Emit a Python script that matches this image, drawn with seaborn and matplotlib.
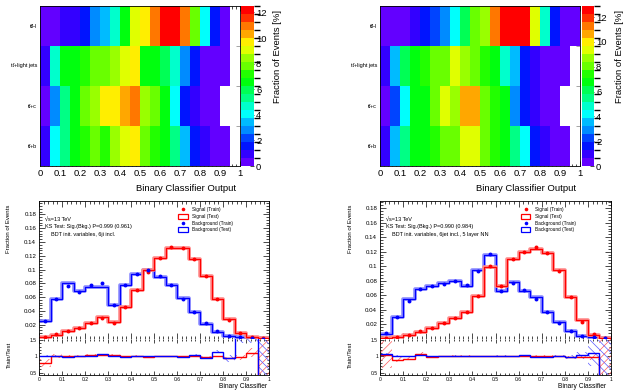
import numpy as np
import pandas as pd
import matplotlib
matplotlib.use("Agg")
import matplotlib.pyplot as plt
import seaborn as sns
import colorsys
from matplotlib.colors import ListedColormap, BoundaryNorm
from matplotlib.lines import Line2D
from matplotlib.patches import Patch
from matplotlib.ticker import MultipleLocator, FuncFormatter

# ---------------- data ----------------
categories = ["tt\u0304H", "tt\u0304+light jets", "tt\u0304+c", "tt\u0304+b"]
bin_edges = [round(0.05 * i, 3) for i in range(21)]
bin_centers = [round(0.05 * i + 0.025, 4) for i in range(20)]
xtick_values = [0, 0.1, 0.2, 0.3, 0.4, 0.5, 0.6, 0.7, 0.8, 0.9, 1.0]
xtick_labels = ["0", "0.1", "0.2", "0.3", "0.4", "0.5", "0.6", "0.7", "0.8", "0.9", "1"]
cbar_ticks = [0, 2, 4, 6, 8, 10, 12]

# heatmap, left (BDT): fraction of events [%] per bin, per category
hm_left_tth = [0.3, 0.4, 0.9, 1.0, 1.6, 2.8, 3.4, 4.7, 6.6, 9.1, 9.7, 11.0, 12.3, 12.5, 10.9, 7.8, 4.1, 1.6, 0.4, 0]
hm_left_light = [0.9, 4.7, 6.5, 6.6, 7.2, 7.8, 7.9, 8.4, 9.1, 9.7, 6.5, 6.6, 5.9, 4.7, 2.8, 1.6, 0.4, 0.35, 0.3, 0]
hm_left_c = [0.4, 2.8, 5.3, 6.6, 7.8, 8.2, 9.6, 9.7, 10.3, 10.9, 8.3, 7.8, 6.6, 4.1, 1.6, 0.9, 0.4, 0.3, 0, 0]
hm_left_b = [1.0, 4.1, 5.6, 6.6, 6.9, 7.6, 7.0, 8.3, 9.1, 9.7, 7.8, 7.0, 6.5, 5.2, 3.4, 1.6, 1.0, 0.4, 0.3, 0]

# heatmap, right (NN)
hm_right_tth = [0.3, 0.4, 0.5, 1.0, 1.6, 2.3, 2.9, 4.2, 6.1, 8.0, 8.7, 11.2, 12.9, 12.7, 12.5, 9.4, 4.8, 1.6, 0.5, 0.3]
hm_right_light = [1.0, 3.5, 6.1, 6.8, 7.4, 8.0, 8.1, 9.4, 8.7, 8.0, 7.4, 6.8, 5.0, 3.5, 1.6, 1.0, 0.4, 0.35, 0.3, 0]
hm_right_c = [0.4, 2.2, 4.2, 6.7, 7.0, 8.0, 9.5, 8.4, 10.6, 10.6, 8.0, 7.5, 6.7, 2.9, 1.6, 1.0, 0.4, 0.3, 0, 0]
hm_right_b = [1.0, 3.5, 5.3, 6.7, 6.8, 7.2, 7.9, 8.0, 9.4, 9.4, 7.9, 7.5, 6.7, 5.3, 4.2, 1.6, 1.0, 0.4, 0.3, 0]

# overtraining check, left (BDT)
sig_test_L = [0.002, 0.005, 0.011, 0.015, 0.022, 0.031, 0.024, 0.046, 0.070, 0.099, 0.117, 0.132, 0.132, 0.115, 0.091, 0.058, 0.028, 0.008, 0.002, 0.0005]
sig_train_L = [0.002, 0.006, 0.011, 0.015, 0.022, 0.030, 0.023, 0.045, 0.070, 0.097, 0.117, 0.133, 0.132, 0.116, 0.090, 0.057, 0.027, 0.008, 0.002, 0.0005]
bkg_test_L = [0.026, 0.057, 0.080, 0.069, 0.075, 0.075, 0.049, 0.077, 0.094, 0.099, 0.089, 0.077, 0.059, 0.038, 0.0215, 0.010, 0.003, 0.0015, 0.0005, 0.0002]
bkg_train_L = [0.026, 0.057, 0.076, 0.068, 0.077, 0.080, 0.048, 0.077, 0.094, 0.099, 0.091, 0.077, 0.058, 0.038, 0.022, 0.011, 0.004, 0.0015, 0.0005, 0.0]
ratio_sig_L = [0.80, 1.00, 1.01, 1.00, 1.03, 1.05, 1.03, 1.00, 1.01, 0.98, 1.00, 1.01, 1.00, 1.02, 0.98, 1.00, 0.95, 0.97, 1.12, 0.0]
err_sig_L = [0.12, 0.06, 0.04, 0.03, 0.03, 0.025, 0.03, 0.02, 0.02, 0.015, 0.015, 0.015, 0.015, 0.015, 0.02, 0.025, 0.03, 0.08, 0.15, 2.0]
ratio_bkg_L = [1.02, 1.02, 0.97, 1.00, 1.00, 1.07, 1.02, 0.99, 1.00, 1.00, 1.01, 1.00, 0.98, 1.05, 0.96, 1.15, 0.94, 1.70, 1.70, 0.0]
err_bkg_L = [0.02, 0.015, 0.015, 0.015, 0.015, 0.015, 0.02, 0.015, 0.015, 0.015, 0.015, 0.015, 0.02, 0.025, 0.03, 0.05, 0.10, 0.30, 0.30, 2.0]

# overtraining check, right (NN)
sig_test_R = [0.0005, 0.002, 0.005, 0.009, 0.015, 0.022, 0.029, 0.036, 0.059, 0.099, 0.073, 0.110, 0.120, 0.124, 0.118, 0.094, 0.057, 0.025, 0.005, 0.001]
sig_train_R = [0.0005, 0.002, 0.005, 0.010, 0.015, 0.022, 0.029, 0.036, 0.059, 0.100, 0.073, 0.110, 0.120, 0.126, 0.118, 0.093, 0.057, 0.023, 0.006, 0.001]
bkg_test_R = [0.0065, 0.030, 0.054, 0.069, 0.073, 0.077, 0.0795, 0.073, 0.095, 0.115, 0.065, 0.078, 0.066, 0.057, 0.037, 0.023, 0.0107, 0.004, 0.002, 0.0008]
bkg_train_R = [0.007, 0.030, 0.052, 0.068, 0.073, 0.076, 0.079, 0.074, 0.093, 0.117, 0.066, 0.077, 0.067, 0.054, 0.037, 0.022, 0.010, 0.004, 0.002, 0.001]
ratio_sig_R = [1.05, 0.90, 0.93, 1.08, 0.97, 1.00, 1.02, 1.01, 1.00, 1.00, 1.00, 1.01, 1.00, 1.02, 1.02, 1.00, 0.98, 0.98, 0.98, 0.0]
err_sig_R = [0.42, 0.08, 0.05, 0.06, 0.03, 0.025, 0.02, 0.02, 0.015, 0.015, 0.015, 0.015, 0.015, 0.015, 0.015, 0.02, 0.025, 0.04, 0.08, 2.0]
ratio_bkg_R = [1.08, 1.02, 1.00, 1.03, 1.00, 1.00, 1.02, 1.00, 1.01, 1.00, 1.02, 1.00, 1.03, 0.98, 0.99, 1.00, 0.98, 1.03, 1.10, 0.0]
err_bkg_R = [0.03, 0.02, 0.015, 0.015, 0.015, 0.015, 0.015, 0.015, 0.015, 0.015, 0.015, 0.015, 0.015, 0.02, 0.025, 0.03, 0.05, 0.1, 0.4, 2.0]

text_L = ["\u221as=13 TeV", "KS Test: Sig.(Bkg.) P=0.999 (0.961)", "BDT init. variables, 6ji incl."]
text_R = ["\u221as=13 TeV", "KS Test: Sig.(Bkg.) P=0.990 (0.984)", "BDT init. variables, 6jet incl., 5 layer NN"]
legend_labels = ["Signal (Train)", "Signal (Test)", "Background (Train)", "Background (Test)"]

# ---------------- style ----------------
sns.set_theme(style="white", rc={
    "axes.edgecolor": "black", "text.color": "black", "axes.labelcolor": "black",
    "xtick.color": "black", "ytick.color": "black", "axes.facecolor": "white",
})
plt.rcParams["font.family"] = ["Liberation Sans", "DejaVu Sans"]
plt.rcParams["hatch.linewidth"] = 0.5

RED = (1.0, 0.0, 0.0)
BLUE = (0.0, 0.0, 1.0)
PALE_RED = (1.0, 0.55, 0.55)
PALE_BLUE = (0.55, 0.55, 1.0)

W, H = 623, 390
fig = plt.figure(figsize=(W / 100, H / 100), dpi=100)


def rect(x0, y0, x1, y1):
    return [x0 / W, 1 - y1 / H, (x1 - x0) / W, (y1 - y0) / H]


def root_cmap(n_levels=20):
    pal = []
    for i in range(49):
        hue = 280 - (i + 1) * 280 / 50
        pal.append(colorsys.hls_to_rgb(hue / 360, 0.5, 1.0))
    pal.append((1.0, 0.0, 0.0))
    return ListedColormap([pal[int((k + 0.99) * 50 / n_levels)] for k in range(n_levels)])


CMAP = root_cmap()
gfmt = FuncFormatter(lambda v, p: f"{v:g}")


def draw_heatmap(ax, cax, rows):
    data = pd.DataFrame(rows, index=categories, columns=[f"{c:.3f}" for c in bin_centers])
    zmax = data.values.max()
    norm = BoundaryNorm(np.linspace(0, zmax * 1.0001, 21), 20)
    sns.heatmap(data, ax=ax, cbar_ax=cax, cmap=CMAP, norm=norm, mask=data.values <= 0,
                linewidths=0, xticklabels=False, yticklabels=True)
    ax.set_xticks(np.array(xtick_values) * 20)
    ax.set_xticklabels(xtick_labels, fontsize=6.8, rotation=0)
    ax.xaxis.set_minor_locator(MultipleLocator(0.4))
    ax.set_yticks([0.5, 1.5, 2.5, 3.5])
    ax.set_yticklabels(categories, rotation=0, fontsize=4)
    ax.set_yticks([1, 2, 3], minor=True)
    ax.tick_params(axis="x", which="both", direction="in", top=True, bottom=True)
    ax.tick_params(axis="x", which="major", length=3.5, width=0.5, pad=2)
    ax.tick_params(axis="x", which="minor", length=1.8, width=0.5)
    ax.tick_params(axis="y", which="major", length=0, pad=2)
    ax.tick_params(axis="y", which="minor", direction="in", left=True, right=True,
                   length=3, width=0.5, color="0.5")
    for s in ax.spines.values():
        s.set_visible(True)
        s.set_color("black")
        s.set_linewidth(0.6)
    ax.set_xlabel("")
    ax.set_ylabel("")
    cbar = ax.collections[0].colorbar
    cbar.set_ticks(cbar_ticks)
    cbar.set_ticklabels([str(t) for t in cbar_ticks])
    cbar.outline.set_visible(False)
    cax.tick_params(direction="in", length=3, width=0.5, labelsize=6.8, pad=1.5,
                    right=True, left=False, color="black")


def draw_main(ax, sig_test, sig_train, bkg_test, bkg_train, ymax, lines, leg_x):
    for test, col, pale in [(bkg_test, BLUE, PALE_BLUE), (sig_test, RED, PALE_RED)]:
        df = pd.DataFrame({"x": bin_centers, "w": test})
        sns.histplot(data=df, x="x", weights="w", bins=bin_edges, element="step", fill=False,
                     color=pale, linewidth=2.6, ax=ax)
        sns.histplot(data=df, x="x", weights="w", bins=bin_edges, element="step", fill=False,
                     color=col, linewidth=0.9, ax=ax)
    sns.scatterplot(x=bin_centers, y=sig_train, color=RED, s=8, linewidth=0, ax=ax, zorder=5)
    sns.scatterplot(x=bin_centers, y=bkg_train, color=BLUE, s=8, linewidth=0, ax=ax, zorder=5)
    ax.set_xlim(0, 1)
    ax.set_ylim(0, ymax)
    ax.set_xlabel("")
    ax.set_ylabel("")
    ax.xaxis.set_major_locator(MultipleLocator(0.1))
    ax.xaxis.set_minor_locator(MultipleLocator(0.02))
    ax.yaxis.set_major_locator(MultipleLocator(0.02))
    ax.yaxis.set_minor_locator(MultipleLocator(0.004))
    ax.yaxis.set_major_formatter(FuncFormatter(lambda v, p: "" if abs(v) < 1e-9 else f"{v:g}"))
    ax.tick_params(which="both", direction="in", top=True, right=True, bottom=True, left=True,
                   labelbottom=False, labelsize=4.4, width=0.5, pad=2)
    ax.tick_params(which="major", length=4)
    ax.tick_params(which="minor", length=2)
    for s in ax.spines.values():
        s.set_linewidth(0.6)
    ax.spines["bottom"].set_color("0.45")
    ax.spines["bottom"].set_linestyle((0, (2, 1)))
    handles = [
        Line2D([], [], marker="o", color=RED, ls="none", ms=2.6, mew=0),
        Patch(facecolor="none", edgecolor=RED, linewidth=0.9),
        Line2D([], [], marker="o", color=BLUE, ls="none", ms=2.6, mew=0),
        Patch(facecolor="none", edgecolor=BLUE, linewidth=0.9),
    ]
    ax.legend(handles, legend_labels, loc="upper left", bbox_to_anchor=(leg_x, 0.955),
              frameon=False, fontsize=3.4, handlelength=2.0, handleheight=1.2,
              labelspacing=0.35, handletextpad=1.0, borderpad=0, borderaxespad=0)
    ax.text(0.024, 0.862, lines[0], transform=ax.transAxes, fontsize=4.0, va="center", ha="left")
    ax.text(0.024, 0.811, lines[1], transform=ax.transAxes, fontsize=4.0, va="center", ha="left")
    ax.text(0.052, 0.756, lines[2], transform=ax.transAxes, fontsize=4.0, va="center", ha="left")


def draw_ratio(ax, r_sig, e_sig, r_bkg, e_bkg):
    r_sig, e_sig = np.array(r_sig), np.array(e_sig)
    r_bkg, e_bkg = np.array(r_bkg), np.array(e_bkg)
    ax.stairs(r_sig + e_sig, bin_edges, baseline=r_sig - e_sig, fill=True, facecolor="none",
              edgecolor=(1.0, 0.35, 0.35), hatch="////", linewidth=0)
    ax.stairs(r_bkg + e_bkg, bin_edges, baseline=r_bkg - e_bkg, fill=True, facecolor="none",
              edgecolor=(0.35, 0.35, 1.0), hatch="\\\\\\\\", linewidth=0)
    ax.stairs(r_sig, bin_edges, baseline=None, color=RED, linewidth=1.0)
    ax.stairs(r_bkg, bin_edges, baseline=None, color=BLUE, linewidth=1.0)
    ax.set_xlim(0, 1)
    ax.set_ylim(0.43, 1.55)
    ax.xaxis.set_major_locator(MultipleLocator(0.1))
    ax.xaxis.set_minor_locator(MultipleLocator(0.02))
    ax.yaxis.set_major_locator(MultipleLocator(0.5))
    ax.yaxis.set_minor_locator(MultipleLocator(0.1))
    ax.xaxis.set_major_formatter(gfmt)
    ax.yaxis.set_major_formatter(gfmt)
    ax.tick_params(which="both", direction="in", top=True, right=True, bottom=True, left=True,
                   labelsize=3.6, width=0.5, pad=1.5)
    ax.tick_params(which="major", length=3)
    ax.tick_params(which="minor", length=1.5)
    for s in ax.spines.values():
        s.set_linewidth(0.6)
    ax.spines["top"].set_visible(False)


# ---------------- top: heatmaps ----------------
ax_hl = fig.add_axes(rect(40, 6, 240, 166))
cax_hl = fig.add_axes(rect(241, 6, 254, 166))
draw_heatmap(ax_hl, cax_hl, [hm_left_tth, hm_left_light, hm_left_c, hm_left_b])
ax_hr = fig.add_axes(rect(380, 6, 580, 166))
cax_hr = fig.add_axes(rect(582, 6, 594, 166))
draw_heatmap(ax_hr, cax_hr, [hm_right_tth, hm_right_light, hm_right_c, hm_right_b])

for xr in (236, 576):
    fig.text(xr / W, 1 - 188 / H, "Binary Classifier Output", ha="right", va="center", fontsize=6.8)
for xc in (277, 620):
    fig.text(xc / W, 1 - 10 / H, "Fraction of Events [%]", rotation=90, ha="center", va="top", fontsize=6.8)

# ---------------- bottom: train/test ----------------
ax_ml = fig.add_axes(rect(39, 201, 269, 338.5))
ax_rl = fig.add_axes(rect(39, 338.5, 269, 375))
draw_main(ax_ml, sig_test_L, sig_train_L, bkg_test_L, bkg_train_L, 0.1995, text_L, 0.605)
draw_ratio(ax_rl, ratio_sig_L, err_sig_L, ratio_bkg_L, err_bkg_L)

ax_mr = fig.add_axes(rect(380, 201, 611, 338.5))
ax_rr = fig.add_axes(rect(380, 338.5, 611, 375))
draw_main(ax_mr, sig_test_R, sig_train_R, bkg_test_R, bkg_train_R, 0.19, text_R, 0.61)
draw_ratio(ax_rr, ratio_sig_R, err_sig_R, ratio_bkg_R, err_bkg_R)

for xc, xr in ((9, 267), (350, 606)):
    fig.text(xc / W, 1 - 205 / H, "Fraction of Events", rotation=90, ha="center", va="top", fontsize=4.3)
    fig.text(xc / W, 1 - 341.5 / H, "Train/Test", rotation=90, ha="center", va="top", fontsize=4.3)
    fig.text(xr / W, 1 - 386.5 / H, "Binary Classifier", ha="right", va="center", fontsize=4.8)

fig.savefig("out.png", dpi=100)
